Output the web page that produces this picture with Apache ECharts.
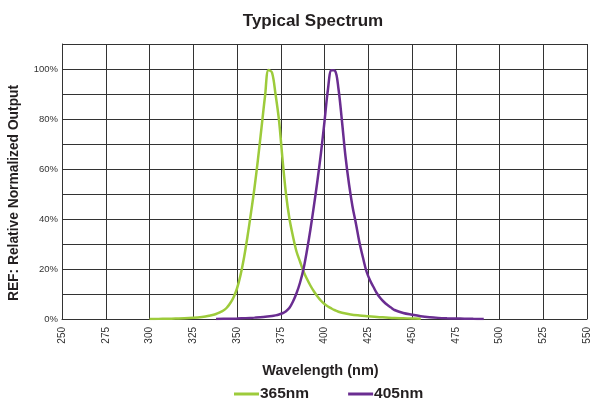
<!DOCTYPE html>
<html>
<head>
<meta charset="utf-8">
<script src="https://cdn.jsdelivr.net/npm/echarts@6/dist/echarts.min.js"></script>
<style>html,body{margin:0;padding:0;background:#fff;}#c{width:592px;height:403px;}</style>
</head>
<body>
<div id="c"></div>
<script>
// Data
const wl365 = [300,305,310,315,320,325,330,332,334,336,338,340,342,344,346,348,350,352,354,356,358,360,362,364,366,368,370,372,374,376,378,380,382,384,386,388,390,392,394,396,398,400,402,404,406,408,410,415,420,425,430,435,440,445,450,455];
const val365 = [0,0.05,0.1,0.2,0.3,0.5,0.8,1.0,1.3,1.6,2.0,2.6,3.3,4.4,6.2,8.6,12.2,17.5,24.5,33,42.5,52.5,64,76.5,89,99.6,98.6,90,79.5,64,50,40,33,27,23,19,16,13.3,11,9,7.3,6,5,4.2,3.5,2.9,2.5,1.8,1.4,1.1,0.8,0.6,0.4,0.3,0.2,0.1];
const wl405 = [338,345,350,355,360,365,370,372,374,376,378,380,382,384,386,388,390,392,394,396,398,400,402,404,406,408,410,412,414,416,418,420,422,424,426,428,430,432,434,436,438,440,445,450,455,460,465,470,475,480,485,491];
const val405 = [0,0.1,0.2,0.35,0.55,0.8,1.2,1.45,1.8,2.3,3.1,4.5,7,10.3,14.5,20,27.5,36,45.5,55.5,66.5,79,92,99.5,99.3,92,79,65,54,45,38,30.5,24.5,19,15.5,12.8,10.2,8.3,6.8,5.6,4.6,3.6,2.4,1.7,1.1,0.7,0.45,0.3,0.2,0.12,0.06,0];
const xTicks = [250,275,300,325,350,375,400,425,450,475,500,525,550];
const yTickLabels = [0,20,40,60,80,100];

const pairs = (xs, ys) => xs.map((x, i) => [x, ys[i]]);
const small = '"Liberation Sans Narrow","Arial Narrow","Liberation Sans",Arial,sans-serif';
const bold = '"Liberation Sans",Arial,Helvetica,sans-serif';

const chart = echarts.init(document.getElementById('c'));
chart.setOption({
  animation: false,
  backgroundColor: '#fff',
  title: {
    text: 'Typical Spectrum',
    left: 308, top: 8, textAlign: 'center',
    textStyle: { fontFamily: bold, fontSize: 17, fontWeight: 'bold', color: '#231f20' }
  },
  grid: { left: 62, right: 2, top: 44, bottom: 84, containLabel: false },
  xAxis: {
    type: 'value', min: xTicks[0], max: xTicks[xTicks.length - 1], interval: 25,
    name: 'Wavelength (nm)', nameLocation: 'middle', nameGap: 44,
    nameTextStyle: { fontFamily: bold, fontSize: 14.5, fontWeight: 'bold', color: '#231f20', padding: [0, 8, 0, 0] },
    axisLine: { show: true, lineStyle: { color: '#333', width: 1 } },
    axisTick: { show: false },
    axisLabel: { rotate: 90, fontSize: 10, color: '#333', fontFamily: small, margin: 8 },
    splitLine: { show: true, lineStyle: { color: '#333', width: 1 } }
  },
  yAxis: {
    type: 'value', min: 0, max: 110, interval: 10,
    axisLine: { show: true, lineStyle: { color: '#333', width: 1 } },
    axisTick: { show: false },
    axisLabel: {
      fontSize: 9.5, color: '#333', fontFamily: small, margin: 4,
      formatter: v => yTickLabels.indexOf(v) >= 0 ? v + '%' : ''
    },
    splitLine: { show: true, lineStyle: { color: '#333', width: 1 } }
  },
  graphic: [{
    type: 'text', rotation: Math.PI / 2,
    x: 14, y: 193,
    style: { text: 'REF: Relative Normalized Output', font: 'bold 13.8px ' + bold, fill: '#231f20', textAlign: 'center', textVerticalAlign: 'middle' }
  }],
  legend: {
    left: 229, top: 381, itemGap: 39, itemWidth: 25, itemHeight: 3, icon: 'rect',
    textStyle: { fontFamily: bold, fontSize: 15.5, fontWeight: 'bold', color: '#231f20', padding: [0, 0, 0, -4] },
    data: ['365nm', '405nm']
  },
  series: [
    { name: '365nm', type: 'line', data: pairs(wl365, val365), smooth: 0.35, showSymbol: false,
      lineStyle: { color: '#9dcb3b', width: 2.5 }, itemStyle: { color: '#9dcb3b' } },
    { name: '405nm', type: 'line', data: pairs(wl405, val405), smooth: 0.35, showSymbol: false,
      lineStyle: { color: '#6a2d91', width: 2.5 }, itemStyle: { color: '#6a2d91' } }
  ]
});
</script>
</body>
</html>
